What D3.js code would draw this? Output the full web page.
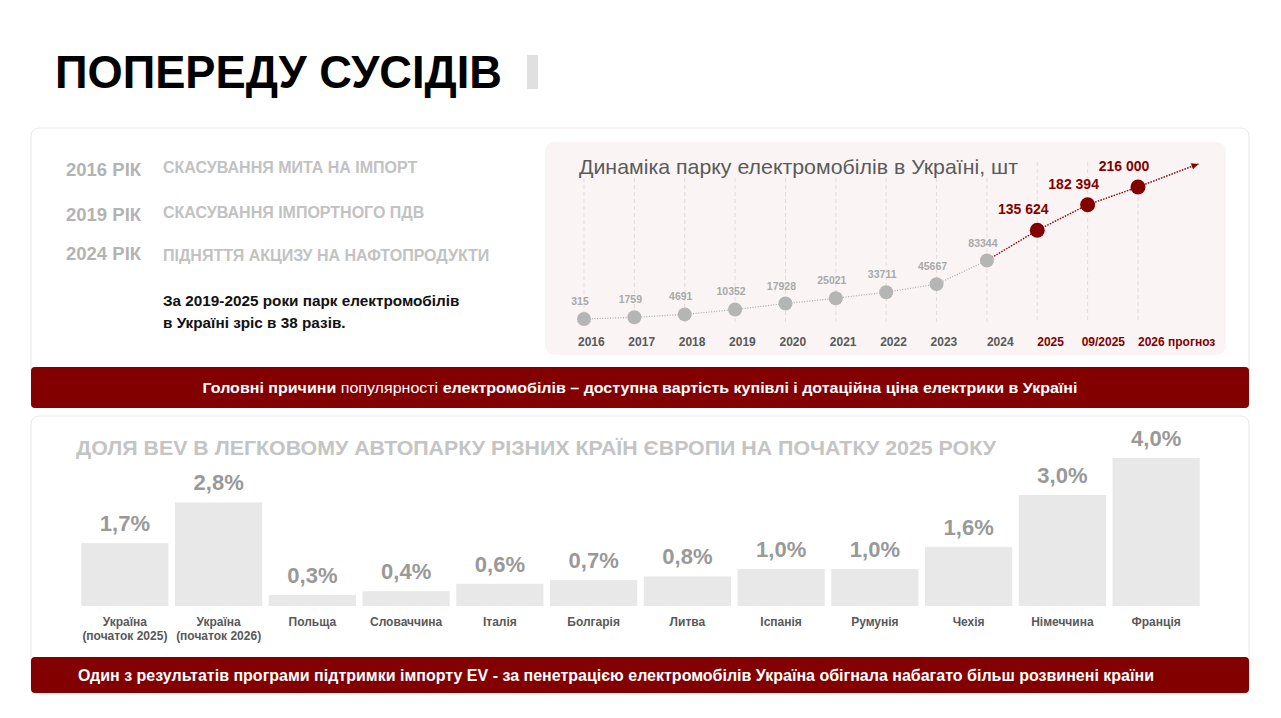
<!DOCTYPE html>
<html>
<head>
<meta charset="utf-8">
<script src="https://cdn.jsdelivr.net/npm/d3@7"></script>
<style>
  body { margin: 0; background: #fff; }
  svg { display: block; font-family: "Liberation Sans", Arial, sans-serif; }
</style>
</head>
<body>
<svg id="slide" width="1281" height="718"></svg>
<script>
// line chart data
var parkYears = ["2016", "2017", "2018", "2019", "2020", "2021", "2022", "2023", "2024", "2025", "09/2025", "2026 прогноз"];
var parkValues = [315, 1759, 4691, 10352, 17928, 25021, 33711, 45667, 83344, 135624, 182394, 216000];
var parkLabels = ["315", "1759", "4691", "10352", "17928", "25021", "33711", "45667", "83344", "135 624", "182 394", "216 000"];
var redFrom = 9; // 2025 onward drawn in red

// bar chart data
var countries = ["Україна|(початок 2025)", "Україна|(початок 2026)", "Польща", "Словаччина", "Італія", "Болгарія", "Литва", "Іспанія", "Румунія", "Чехія", "Німеччина", "Франція"];
var shares = [1.7, 2.8, 0.3, 0.4, 0.6, 0.7, 0.8, 1.0, 1.0, 1.6, 3.0, 4.0];
var shareLabels = ["1,7%", "2,8%", "0,3%", "0,4%", "0,6%", "0,7%", "0,8%", "1,0%", "1,0%", "1,6%", "3,0%", "4,0%"];

// left text block
var milestones = [
  { year: "2016 РІК", text: "СКАСУВАННЯ МИТА НА ІМПОРТ" },
  { year: "2019 РІК", text: "СКАСУВАННЯ ІМПОРТНОГО ПДВ" },
  { year: "2024 РІК", text: "ПІДНЯТТЯ АКЦИЗУ НА НАФТОПРОДУКТИ" }
];

var darkRed = "#820000";
var svg = d3.select("#slide");

//title
svg.append("text")
  .attr("x", 55).attr("y", 88)
  .attr("textLength", 447).attr("lengthAdjust", "spacingAndGlyphs")
  .style("font-size", "46px").style("font-weight", "bold").style("fill", "#000")
  .text("ПОПЕРЕДУ СУСІДІВ");
svg.append("rect").attr("x", 527).attr("y", 55).attr("width", 11).attr("height", 34).style("fill", "#e0e0e0");

//panels
var panels = [[31, 128, 1218, 250], [31, 416, 1218, 278]];
svg.selectAll("rect.panel").data(panels).enter().append("rect")
  .attr("class", "panel")
  .attr("x", function (d) { return d[0]; })
  .attr("y", function (d) { return d[1]; })
  .attr("width", function (d) { return d[2]; })
  .attr("height", function (d) { return d[3]; })
  .attr("rx", 8)
  .style("fill", "#fff").style("stroke", "#ebebeb").style("stroke-width", 1.2);

//milestones
var rowY = [176, 221, 260];
milestones.forEach(function (m, i) {
  svg.append("text").attr("x", 66).attr("y", rowY[i])
    .style("font-size", "18.5px").style("font-weight", "bold").style("fill", "#b3b3b3")
    .text(m.year);
  svg.append("text").attr("x", 163).attr("y", rowY[i] - 3 + (i === 2 ? 4 : 0))
    .style("font-size", "16px").style("font-weight", "bold").style("fill", "#c2c2c2")
    .text(m.text);
});
svg.append("text").attr("x", 163).attr("y", 306)
  .style("font-size", "15.3px").style("font-weight", "bold").style("fill", "#111")
  .text("За 2019-2025 роки парк електромобілів");
svg.append("text").attr("x", 163).attr("y", 328)
  .style("font-size", "15.3px").style("font-weight", "bold").style("fill", "#111")
  .text("в Україні зріс в 38 разів.");

//line chart panel
svg.append("rect").attr("x", 545).attr("y", 142).attr("width", 681).attr("height", 213)
  .attr("rx", 9).style("fill", "#faf5f4");
svg.append("text").attr("x", 579).attr("y", 174)
  .attr("textLength", 439).attr("lengthAdjust", "spacingAndGlyphs")
  .style("font-size", "21px").style("fill", "#5a5a5a")
  .text("Динаміка парку електромобілів в Україні, шт");

var x = d3.scalePoint().domain(parkYears).range([584, 1138]);
var y = d3.scalePow().exponent(0.85).domain([315, 216000]).range([319, 187]);

svg.selectAll("line.grid").data(parkYears).enter().append("line")
  .attr("class", "grid")
  .attr("x1", function (d) { return x(d); })
  .attr("x2", function (d) { return x(d); })
  .attr("y1", function (d) { return x(d) < 1020 ? 178 : 162; })
  .attr("y2", 322)
  .style("stroke", "#e3dcdb").style("stroke-width", 1).style("stroke-dasharray", "4,3");

var pts = parkYears.map(function (d, i) { return [x(d), y(parkValues[i])]; });
var last = pts[pts.length - 1], prev = pts[pts.length - 2];
var tip = [last[0] + (last[0] - prev[0]) * 1.2, last[1] + (last[1] - prev[1]) * 1.3];

var lineGen = d3.line();
svg.append("path").attr("d", lineGen(pts.slice(0, redFrom)))
  .style("fill", "none").style("stroke", "#a8a8a8").style("stroke-width", 1.2).style("stroke-dasharray", "1,1.6");
svg.append("path").attr("d", lineGen(pts.slice(redFrom - 1).concat([tip])))
  .style("fill", "none").style("stroke", darkRed).style("stroke-width", 1.4).style("stroke-dasharray", "1.5,1.3");

// arrow head
var ang = Math.atan2(tip[1] - prev[1], tip[0] - prev[0]) * 180 / Math.PI;
svg.append("path").attr("d", "M0,0 L-7,-3.2 L-7,3.2 Z")
  .attr("transform", "translate(" + tip[0] + "," + tip[1] + ") rotate(" + ang + ")")
  .style("fill", darkRed);

svg.selectAll("circle.pt").data(parkValues).enter().append("circle")
  .attr("class", "pt")
  .attr("cx", function (d, i) { return x(parkYears[i]); })
  .attr("cy", function (d) { return y(d); })
  .attr("r", function (d, i) { return i >= redFrom ? 7.5 : 7; })
  .style("fill", function (d, i) { return i >= redFrom ? darkRed : "#b5b5b5"; });

svg.selectAll("text.val").data(parkValues).enter().append("text")
  .attr("class", "val")
  .attr("x", function (d, i) { return x(parkYears[i]) + (i >= redFrom ? -14 : -4); })
  .attr("y", function (d, i) { return y(d) + (i >= redFrom ? -16 : -14); })
  .attr("text-anchor", "middle")
  .style("font-size", function (d, i) { return i >= redFrom ? "14px" : "10.5px"; })
  .style("font-weight", "bold")
  .style("fill", function (d, i) { return i >= redFrom ? darkRed : "#a9a9a9"; })
  .text(function (d, i) { return parkLabels[i]; });

svg.selectAll("text.yr").data(parkYears).enter().append("text")
  .attr("class", "yr")
  .attr("x", function (d, i) { return x(d) - (i === 10 ? 6 : i < redFrom - 1 ? 6 : 0); })
  .attr("y", 346)
  .style("font-size", "12px").style("font-weight", "bold")
  .style("fill", function (d, i) { return i >= redFrom ? darkRed : "#595959"; })
  .text(function (d) { return d; });

//banners
function banner(yTop, h, size, cx, width, parts) {
  svg.append("rect").attr("x", 31).attr("y", yTop).attr("width", 1218).attr("height", h)
    .attr("rx", 4).style("fill", darkRed);
  var t = svg.append("text").attr("x", cx).attr("y", yTop + h / 2 + size * 0.36)
    .attr("text-anchor", "middle")
    .attr("textLength", width).attr("lengthAdjust", "spacingAndGlyphs")
    .style("font-size", size + "px").style("fill", "#fff");
  parts.forEach(function (p) {
    t.append("tspan").style("font-weight", p[1] ? "bold" : "normal").text(p[0]);
  });
}
banner(367, 41, 15.5, 640, 875, [["Головні причини", true], [" популярності ", false],
  ["електромобілів – доступна вартість купівлі і дотаційна ціна електрики в Україні", true]]);
banner(657, 36, 16, 616, 1076, [["Один з результатів програми підтримки імпорту EV - за пенетрацією електромобілів Україна обігнала набагато більш розвинені країни", true]]);

//bar chart
svg.append("text").attr("x", 76).attr("y", 455)
  .attr("textLength", 920).attr("lengthAdjust", "spacingAndGlyphs")
  .style("font-family", "'Liberation Sans Narrow', 'Arial Narrow', 'Liberation Sans', sans-serif")
  .style("font-size", "21px").style("font-weight", "bold").style("fill", "#c4c4c4")
  .text("ДОЛЯ BEV В ЛЕГКОВОМУ АВТОПАРКУ РІЗНИХ КРАЇН ЄВРОПИ НА ПОЧАТКУ 2025 РОКУ");

var bx = d3.scaleBand().domain(countries).range([78, 1203]).paddingInner(0.07).paddingOuter(0.035);
var by = d3.scaleLinear().domain([0, 4]).range([606, 458]);

svg.selectAll("rect.bar").data(shares).enter().append("rect")
  .attr("class", "bar")
  .attr("x", function (d, i) { return bx(countries[i]); })
  .attr("y", function (d) { return by(d); })
  .attr("width", bx.bandwidth())
  .attr("height", function (d) { return by(0) - by(d); })
  .style("fill", "#e8e8e8");

svg.selectAll("text.share").data(shares).enter().append("text")
  .attr("class", "share")
  .attr("x", function (d, i) { return bx(countries[i]) + bx.bandwidth() / 2; })
  .attr("y", function (d) { return by(d) - 12; })
  .attr("text-anchor", "middle")
  .style("font-size", "22px").style("font-weight", "bold").style("fill", "#999")
  .text(function (d, i) { return shareLabels[i]; });

var cats = svg.selectAll("text.cat").data(countries).enter().append("text")
  .attr("class", "cat")
  .attr("x", function (d) { return bx(d) + bx.bandwidth() / 2; })
  .attr("y", 626)
  .attr("text-anchor", "middle")
  .style("font-size", "12px").style("font-weight", "bold").style("fill", "#595959");
cats.each(function (d) {
  var el = d3.select(this);
  d.split("|").forEach(function (line, k) {
    el.append("tspan").attr("x", el.attr("x")).attr("dy", k === 0 ? 0 : 14).text(line);
  });
});
</script>
</body>
</html>
